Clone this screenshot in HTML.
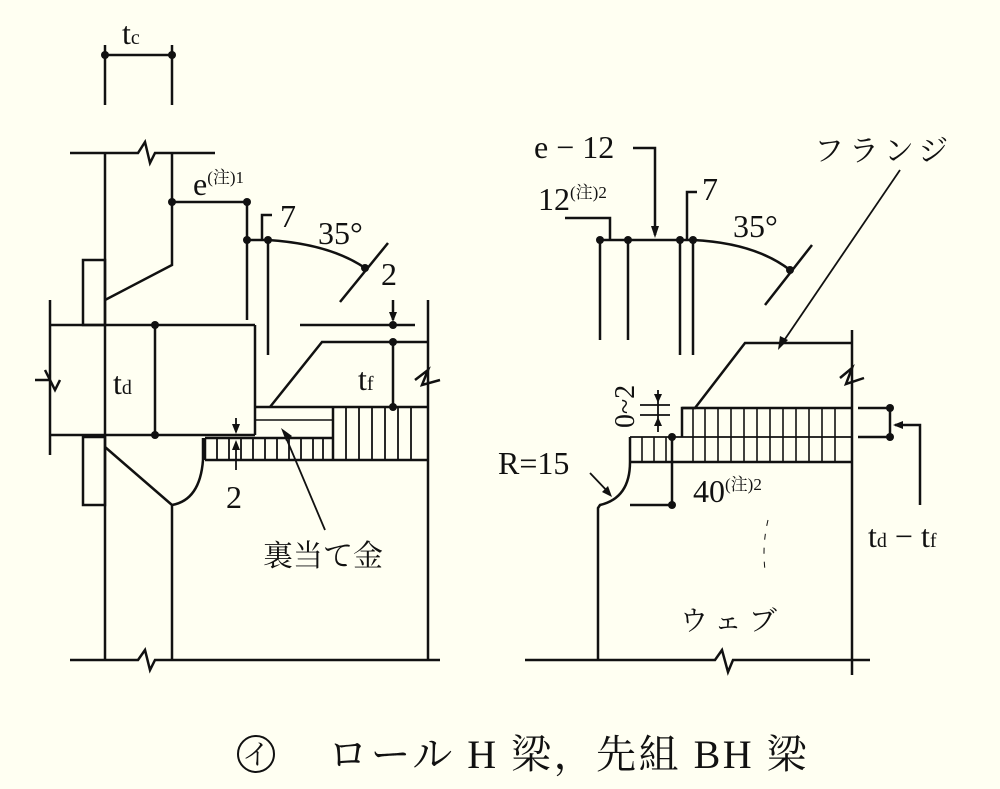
<!DOCTYPE html>
<html><head><meta charset="utf-8"><style>
html,body{margin:0;padding:0;background:#fffff2;}
svg{display:block;}
text{font-family:"Liberation Serif","Noto Serif CJK SC",serif;fill:#111;}
</style></head><body>
<svg width="1000" height="789" viewBox="0 0 1000 789" xmlns="http://www.w3.org/2000/svg">
<rect width="1000" height="789" fill="#fffff2"/>
<g stroke="#111" stroke-width="2.5" fill="none" stroke-linejoin="miter">
<line x1="105" y1="45" x2="105" y2="105"/><line x1="172" y1="45" x2="172" y2="105"/>
<line x1="105" y1="55" x2="172" y2="55"/>
<polyline points="70,153 138,153 145,142 150,163 155,153 215,153"/>
<line x1="105" y1="153" x2="105" y2="660"/>
<polyline points="172,153 172,265 105,300"/>
<rect x="83" y="260" width="22" height="65"/>
<rect x="83" y="437" width="22" height="68"/>
<line x1="50" y1="300" x2="50" y2="455"/>
<polyline points="35,380 50,380 45,370 55,390 60,380"/>
<line x1="50" y1="325" x2="255" y2="325"/>
<line x1="50" y1="435" x2="255" y2="435"/>
<line x1="255" y1="325" x2="255" y2="435"/>
<line x1="155" y1="325" x2="155" y2="435"/>
<line x1="172" y1="202" x2="247" y2="202"/>
<line x1="247" y1="202" x2="247" y2="320"/>
<line x1="247" y1="240" x2="268" y2="240"/>
<polyline points="262,240 262,215 272,215"/>
<line x1="268" y1="240" x2="268" y2="355"/>
<path d="M268,240 Q330,244 365,268"/>
<line x1="340" y1="302" x2="388" y2="243"/>
<line x1="300" y1="325" x2="415" y2="325"/>
<line x1="393" y1="300" x2="393" y2="320"/>
<polyline points="428,342 322,342 270,407"/>
<line x1="255" y1="407" x2="428" y2="407"/>
<line x1="393" y1="342" x2="393" y2="407"/>
<line x1="428" y1="300" x2="428" y2="660"/>
<polyline points="415,380 428,370 422,385 440,380"/>
<line x1="205" y1="460" x2="428" y2="460"/>
<line x1="205" y1="438" x2="333" y2="438"/>
<line x1="333" y1="407" x2="333" y2="460"/>
<line x1="255" y1="420" x2="333" y2="420" stroke-width="1.5"/>
<line x1="205" y1="438" x2="205" y2="460"/>
</g>
<g stroke="#111" stroke-width="1.8">
<line x1="217" y1="438" x2="217" y2="460"/><line x1="229" y1="438" x2="229" y2="460"/><line x1="241" y1="438" x2="241" y2="460"/><line x1="253" y1="438" x2="253" y2="460"/><line x1="265" y1="438" x2="265" y2="460"/><line x1="277" y1="438" x2="277" y2="460"/><line x1="289" y1="438" x2="289" y2="460"/><line x1="301" y1="438" x2="301" y2="460"/><line x1="313" y1="438" x2="313" y2="460"/><line x1="323" y1="438" x2="323" y2="460"/>
<line x1="346" y1="407" x2="346" y2="460"/><line x1="359" y1="407" x2="359" y2="460"/><line x1="372" y1="407" x2="372" y2="460"/><line x1="385" y1="407" x2="385" y2="460"/><line x1="398" y1="407" x2="398" y2="460"/><line x1="411" y1="407" x2="411" y2="460"/>
<line x1="236" y1="418" x2="236" y2="432"/><line x1="236" y1="444" x2="236" y2="470"/>
<line x1="325" y1="530" x2="287" y2="440"/>
</g>
<g stroke="#111" stroke-width="2.5" fill="none">
<path d="M203,438 L203,460 Q200,500 172,505"/>
<polyline points="105,447 172,505 172,660"/>
<polyline points="70,660 138,660 145,650 150,670 155,660 440,660"/>
<polyline points="633,148 655,148 655,235"/>
<polyline points="565,218 610,218 610,240"/>
<line x1="600" y1="240" x2="693" y2="240"/>
<line x1="600" y1="240" x2="600" y2="340"/><line x1="628" y1="240" x2="628" y2="340"/>
<line x1="680" y1="240" x2="680" y2="355"/><line x1="693" y1="240" x2="693" y2="355"/>
<polyline points="687,240 687,192 697,192"/>
<path d="M693,240 Q755,243 790,270"/>
<line x1="765" y1="305" x2="812" y2="245"/>
<line x1="900" y1="170" x2="783" y2="342" stroke-width="1.8"/>
<polyline points="852,330 852,675"/>
<polyline points="840,378 852,368 846,384 864,378"/>
<polyline points="852,343 745,343 695,408 682,408 682,437"/>
<line x1="682" y1="408" x2="852" y2="408"/>
<line x1="630" y1="437" x2="852" y2="437" stroke-width="1.8"/>
<line x1="630" y1="462" x2="852" y2="462"/>
<path d="M630,437 L630,462 Q630,498 600,505 L598,508 L598,660"/>
<polyline points="630,505 672,505 672,437"/>
<line x1="640" y1="405" x2="670" y2="405" stroke-width="1.8"/><line x1="640" y1="415" x2="670" y2="415" stroke-width="1.8"/>
<line x1="658" y1="390" x2="658" y2="432" stroke-width="1.8"/>
<line x1="858" y1="408" x2="890" y2="408"/><line x1="858" y1="437" x2="890" y2="437"/>
<line x1="890" y1="408" x2="890" y2="437"/>
<polyline points="895,425 920,425 920,505"/>
<line x1="590" y1="473" x2="610" y2="494" stroke-width="1.8"/>
<polyline points="525,660 715,660 722,650 728,672 733,660 870,660"/>
<path d="M768,520 Q762,545 765,570" stroke-width="1" stroke-dasharray="6 8"/>
</g>
<g stroke="#111" stroke-width="1.6">
<line x1="693" y1="408" x2="693" y2="462"/><line x1="705" y1="408" x2="705" y2="462"/><line x1="718" y1="408" x2="718" y2="462"/><line x1="731" y1="408" x2="731" y2="462"/><line x1="744" y1="408" x2="744" y2="462"/><line x1="757" y1="408" x2="757" y2="462"/><line x1="770" y1="408" x2="770" y2="462"/><line x1="783" y1="408" x2="783" y2="462"/><line x1="796" y1="408" x2="796" y2="462"/><line x1="809" y1="408" x2="809" y2="462"/><line x1="822" y1="408" x2="822" y2="462"/><line x1="835" y1="408" x2="835" y2="462"/>
<line x1="642" y1="437" x2="642" y2="462"/><line x1="654" y1="437" x2="654" y2="462"/><line x1="666" y1="437" x2="666" y2="462"/>
</g>
<g fill="#111">
<circle cx="105" cy="55" r="4"/><circle cx="172" cy="55" r="4"/>
<circle cx="155" cy="325" r="4"/><circle cx="155" cy="435" r="4"/>
<circle cx="172" cy="202" r="4"/><circle cx="247" cy="202" r="4"/>
<circle cx="247" cy="240" r="4"/><circle cx="268" cy="240" r="4"/>
<circle cx="365" cy="268" r="4"/>
<circle cx="393" cy="325" r="4"/><circle cx="393" cy="342" r="4"/><circle cx="393" cy="407" r="4"/>
<polygon points="389,312 397,312 393,322"/>
<polygon points="232,424 240,424 236,434"/><polygon points="232,450 240,450 236,440"/>
<polygon points="281,428 292,436 286,441"/>
<circle cx="600" cy="240" r="4"/><circle cx="628" cy="240" r="4"/><circle cx="680" cy="240" r="4"/><circle cx="693" cy="240" r="4"/>
<circle cx="790" cy="270" r="4"/>
<polygon points="651,226 659,226 655,238"/>
<polygon points="778,350 780,336 788,340"/>
<polygon points="654,394 662,394 658,403"/><polygon points="654,426 662,426 658,417"/>
<circle cx="672" cy="437" r="4"/><circle cx="672" cy="505" r="4"/>
<circle cx="890" cy="408" r="4"/><circle cx="890" cy="437" r="4"/>
<polygon points="893,425 903,421 903,429"/>
<polygon points="612,497 602,492 608,486"/>
</g>
<g font-size="32">
<text x="122" y="44">t<tspan font-size="20">c</tspan></text>
<text x="193" y="195">e<tspan font-size="17" dy="-12">(注)1</tspan></text>
<text x="280" y="227">7</text>
<text x="318" y="244">35°</text>
<text x="381" y="285">2</text>
<text x="113" y="394">t<tspan font-size="20">d</tspan></text>
<text x="358" y="390">t<tspan font-size="20">f</tspan></text>
<text x="226" y="508">2</text>
<text x="263" y="566" font-size="30" font-family="Noto Serif CJK SC,serif">裏当て金</text>
<text x="534" y="158">e − 12</text>
<text x="538" y="210">12<tspan font-size="17" dy="-12">(注)2</tspan></text>
<text x="702" y="200">7</text>
<text x="733" y="237">35°</text>
<text x="814" y="161" font-size="30" font-family="Noto Serif CJK SC,serif" letter-spacing="5">フランジ</text>
<text x="498" y="474">R=15</text>
<text x="693" y="502">40<tspan font-size="17" dy="-12">(注)2</tspan></text>
<text x="868" y="547">t<tspan font-size="20">d</tspan> − t<tspan font-size="20">f</tspan></text>
<text x="680" y="630" font-size="28" font-family="Noto Serif CJK SC,serif" letter-spacing="7">ウェブ</text>
<text transform="translate(634,428) rotate(-90)" font-size="28">0~2</text>
</g>
<circle cx="256" cy="754" r="18" fill="none" stroke="#111" stroke-width="2"/>
<text x="256" y="764" font-size="28" text-anchor="middle" font-family="Noto Serif CJK SC,serif">イ</text>
<text x="328" y="768" font-size="40" font-family="Liberation Serif,Noto Serif CJK SC,serif" letter-spacing="2.5">ロール H 梁，先組 BH 梁</text>
</svg>
</body></html>
